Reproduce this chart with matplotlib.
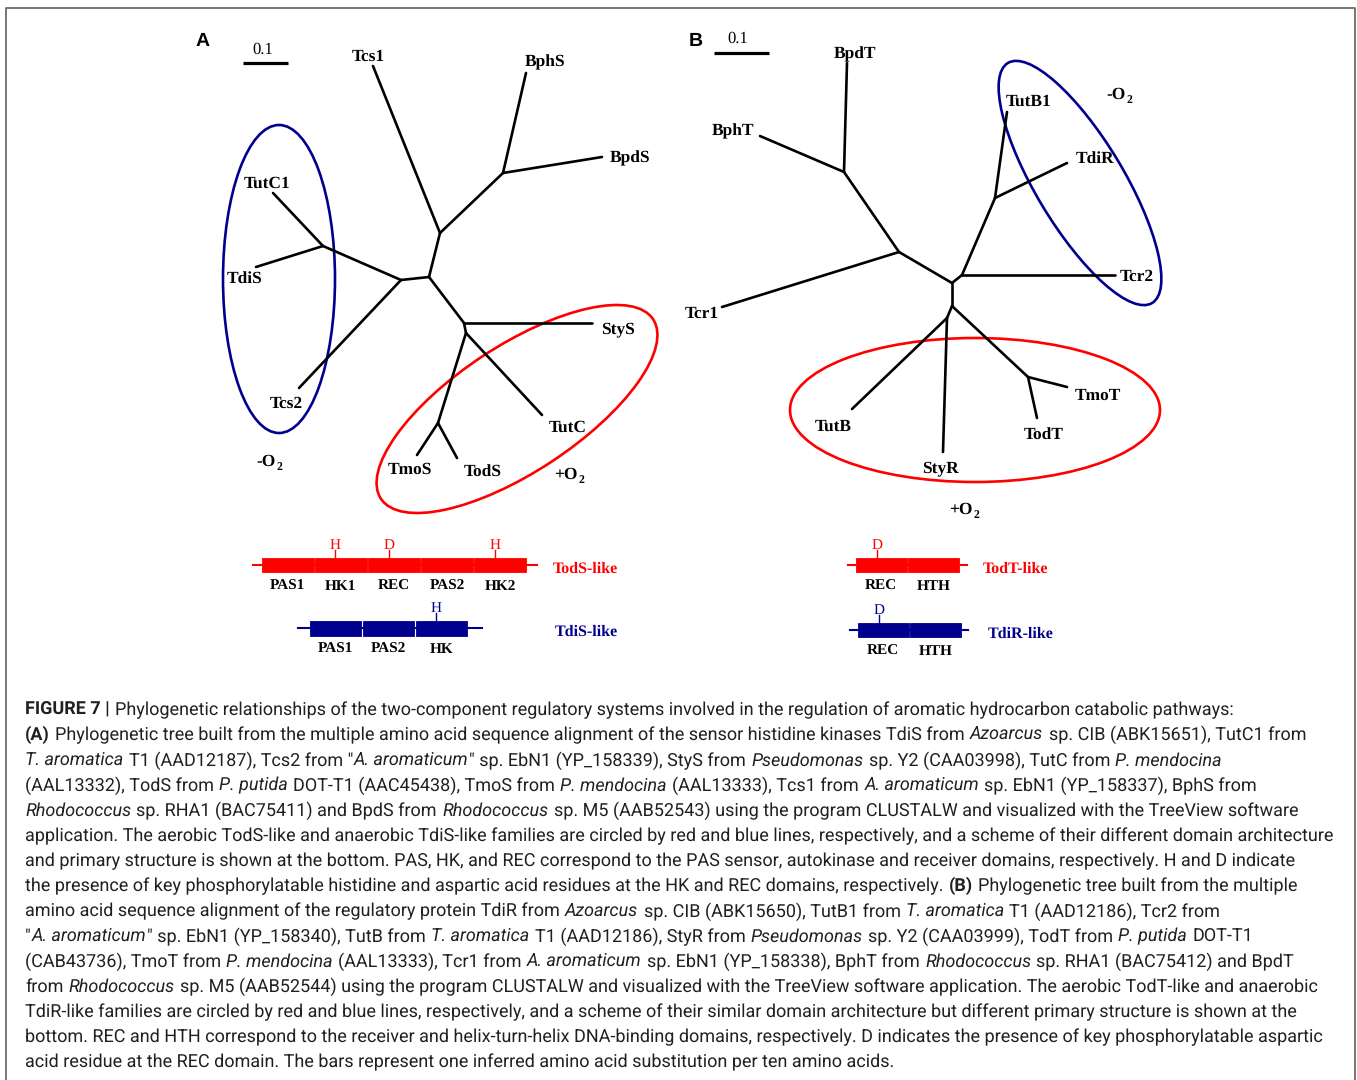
import re
import matplotlib
matplotlib.use("Agg")
import matplotlib.pyplot as plt
from matplotlib.patches import Ellipse, Rectangle

plt.rcParams["text.hinting"] = "no_hinting"

# ---------------- Panel A: sensor histidine kinase tree ----------------
a_tip_names = ["Tcs1", "BphS", "BpdS", "TutC1", "TdiS", "Tcs2", "StyS", "TutC", "TmoS", "TodS"]
a_tip_x = [373, 526, 602, 273, 256, 299, 592, 542, 417, 457]
a_tip_y = [66, 73, 157, 193, 267, 388, 323, 415, 455, 458]
a_node_names = ["a1", "a2", "a3", "a4", "a5", "a6", "a7", "a8"]
a_node_x = [503, 440, 429, 401, 323, 464, 466, 438]
a_node_y = [173, 233, 277, 280, 246, 323, 333, 423]
a_edges = [("a1", "BphS"), ("a1", "BpdS"), ("a2", "a1"), ("a2", "Tcs1"),
           ("a3", "a2"), ("a3", "a4"), ("a4", "a5"), ("a5", "TutC1"),
           ("a5", "TdiS"), ("a4", "Tcs2"), ("a3", "a6"), ("a6", "StyS"),
           ("a6", "a7"), ("a7", "TutC"), ("a7", "a8"), ("a8", "TmoS"),
           ("a8", "TodS")]

# ---------------- Panel B: response regulator tree ----------------
b_tip_names = ["BpdT", "BphT", "Tcr1", "TutB1", "TdiR", "Tcr2", "TutB", "StyR", "TodT", "TmoT"]
b_tip_x = [847, 760, 722, 1007, 1067, 1115, 852, 943, 1037, 1067]
b_tip_y = [63, 136, 307, 112, 163, 275, 409, 452, 418, 387]
b_node_names = ["b1", "b2", "b3", "b4", "b5", "b6", "b7", "b8"]
b_node_x = [844, 899, 952, 962, 995, 952, 947, 1028]
b_node_y = [172, 252, 283, 275, 198, 306, 318, 377]
b_edges = [("b1", "BpdT"), ("b1", "BphT"), ("b2", "b1"), ("b2", "Tcr1"),
           ("b2", "b3"), ("b3", "b4"), ("b4", "Tcr2"), ("b4", "b5"),
           ("b5", "TutB1"), ("b5", "TdiR"), ("b3", "b6"), ("b6", "b7"),
           ("b7", "TutB"), ("b7", "StyR"), ("b6", "b8"), ("b8", "TodT"),
           ("b8", "TmoT")]

# ---------------- Domain architectures ----------------
tods_domains = ["PAS1", "HK1", "REC", "PAS2", "HK2"]
tods_sites = ["", "H", "D", "", "H"]
tdis_domains = ["PAS1", "PAS2", "HK"]
tdis_sites = ["", "", "H"]
todt_domains = ["REC", "HTH"]
todt_sites = ["D", ""]
tdir_domains = ["REC", "HTH"]
tdir_sites = ["D", ""]

caption_lines = [
    "**FIGURE 7 |** Phylogenetic relationships of the two-component regulatory systems involved in the regulation of aromatic hydrocarbon catabolic pathways:",
    "**(A)** Phylogenetic tree built from the multiple amino acid sequence alignment of the sensor histidine kinases TdiS from *Azoarcus* sp. CIB (ABK15651), TutC1 from",
    "*T. aromatica* T1 (AAD12187), Tcs2 from \"*A. aromaticum*\" sp. EbN1 (YP_158339), StyS from *Pseudomonas* sp. Y2 (CAA03998), TutC from *P. mendocina*",
    "(AAL13332), TodS from *P. putida* DOT-T1 (AAC45438), TmoS from *P. mendocina* (AAL13333), Tcs1 from *A. aromaticum* sp. EbN1 (YP_158337), BphS from",
    "*Rhodococcus* sp. RHA1 (BAC75411) and BpdS from *Rhodococcus* sp. M5 (AAB52543) using the program CLUSTALW and visualized with the TreeView software",
    "application. The aerobic TodS-like and anaerobic TdiS-like families are circled by red and blue lines, respectively, and a scheme of their different domain architecture",
    "and primary structure is shown at the bottom. PAS, HK, and REC correspond to the PAS sensor, autokinase and receiver domains, respectively. H and D indicate",
    "the presence of key phosphorylatable histidine and aspartic acid residues at the HK and REC domains, respectively. **(B)** Phylogenetic tree built from the multiple",
    "amino acid sequence alignment of the regulatory protein TdiR from *Azoarcus* sp. CIB (ABK15650), TutB1 from *T. aromatica* T1 (AAD12186), Tcr2 from",
    "\"*A. aromaticum*\" sp. EbN1 (YP_158340), TutB from *T. aromatica* T1 (AAD12186), StyR from *Pseudomonas* sp. Y2 (CAA03999), TodT from *P. putida* DOT-T1",
    "(CAB43736), TmoT from *P. mendocina* (AAL13333), Tcr1 from *A. aromaticum* sp. EbN1 (YP_158338), BphT from *Rhodococcus* sp. RHA1 (BAC75412) and BpdT",
    "from *Rhodococcus* sp. M5 (AAB52544) using the program CLUSTALW and visualized with the TreeView software application. The aerobic TodT-like and anaerobic",
    "TdiR-like families are circled by red and blue lines, respectively, and a scheme of their similar domain architecture but different primary structure is shown at the",
    "bottom. REC and HTH correspond to the receiver and helix-turn-helix DNA-binding domains, respectively. D indicates the presence of key phosphorylatable aspartic",
    "acid residue at the REC domain. The bars represent one inferred amino acid substitution per ten amino acids.",
]

RED = "#ff0000"
NAVY = "#00008f"
INK = "#231f20"
SERIF = "Liberation Serif"
SANS = "Roboto"

W, H = 1357, 1080
fig = plt.figure(figsize=(W / 100, H / 100), dpi=100)
ax = fig.add_axes([0, 0, 1, 1])
ax.set_xlim(0, W)
ax.set_ylim(H, 0)
ax.axis("off")
renderer = fig.canvas.get_renderer()

# outer frame
ax.plot([6, 6, 1355, 1355], [H, 8, 8, H], color="#6b6b6b", lw=1.3)


def draw_tree(tips, tx, ty, nodes, nx, ny, edges):
    pos = dict(zip(tips + nodes, zip(tx + nx, ty + ny)))
    for u, v in edges:
        ax.plot([pos[u][0], pos[v][0]], [pos[u][1], pos[v][1]],
                color="black", lw=1.9, solid_capstyle="round")


def tree_label(x, y, s):
    ax.text(x, y + 6, s, family=SERIF, weight="bold", size=12.5,
            ha="center", va="baseline", color="black")


def oxygen_label(x, y, sign):
    t = ax.text(x - 4, y + 6, sign + "O", family=SERIF, weight="bold",
                size=12.5, ha="center", va="baseline", color="black")
    bb = t.get_window_extent(renderer)
    ax.text(bb.x1 + 0.5, y + 10, "2", family=SERIF, weight="bold", size=8.5,
            ha="left", va="baseline", color="black")


draw_tree(a_tip_names, a_tip_x, a_tip_y, a_node_names, a_node_x, a_node_y, a_edges)
draw_tree(b_tip_names, b_tip_x, b_tip_y, b_node_names, b_node_x, b_node_y, b_edges)

a_label_x = [368, 545, 630, 267, 245, 286, 618, 568, 410, 483]
a_label_y = [55, 60, 156, 182, 277, 402, 327, 426, 468, 470]
for s, x, y in zip(a_tip_names, a_label_x, a_label_y):
    tree_label(x, y, s)
b_label_x = [855, 733, 702, 1029, 1095, 1137, 833, 940, 1044, 1098]
b_label_y = [52, 129, 312, 100, 157, 275, 425, 466, 433, 394]
for s, x, y in zip(b_tip_names, b_label_x, b_label_y):
    tree_label(x, y, s)

oxygen_label(270, 460, "-")
oxygen_label(570, 473, "+")
oxygen_label(1120, 93, "-")
oxygen_label(965, 508, "+")

# family circles
ax.add_patch(Ellipse((279, 279), 112, 308, fill=False, ec=NAVY, lw=1.9))
ax.add_patch(Ellipse((517, 409), 326, 126, angle=-33.4, fill=False, ec=RED, lw=1.9))
ax.add_patch(Ellipse((1080, 183), 280, 88, angle=59, fill=False, ec=NAVY, lw=1.9))
ax.add_patch(Ellipse((975, 410), 370, 144, fill=False, ec=RED, lw=1.9))

# panel letters and scale bars
ax.text(203, 46, "A", family="Liberation Sans", weight="bold", size=14,
        ha="center", va="baseline")
ax.text(696, 46, "B", family="Liberation Sans", weight="bold", size=14,
        ha="center", va="baseline")
ax.plot([243, 288], [63, 63], color="black", lw=2.3, solid_capstyle="butt")
ax.text(263, 54, "0.1", family=SERIF, size=12, ha="center", va="baseline")
ax.plot([714, 769], [53, 53], color="black", lw=2.3, solid_capstyle="butt")
ax.text(738, 43, "0.1", family=SERIF, size=12, ha="center", va="baseline")


def draw_domains(x0, ymid, bw, bh, names, sites, site_frac, color,
                 tail_l, tail_r, fam, fam_x):
    x_end = x0 + bw * len(names)
    ax.plot([x0 - tail_l, x_end + tail_r], [ymid, ymid], color=color, lw=1.5)
    for i, (nm, site) in enumerate(zip(names, sites)):
        bx = x0 + i * bw
        ax.add_patch(Rectangle((bx + 0.6, ymid - bh / 2), bw - 1.2, bh,
                               fc=color, ec=color, lw=0.6))
        ax.text(bx + bw / 2, ymid + 25, nm, family=SERIF, weight="bold",
                size=11, ha="center", va="baseline", color="black")
        if site:
            sx = bx + bw * site_frac
            top = ymid - bh / 2
            ax.plot([sx, sx], [top, top - 8], color=color, lw=1.0)
            ax.text(sx, top - 9, site, family=SERIF, size=11,
                    ha="center", va="baseline", color=color)
    ax.text(fam_x, ymid + 8, fam, family=SERIF, weight="bold", size=11.5,
            ha="left", va="baseline", color=color)


draw_domains(261, 565, 53.2, 14, tods_domains, tods_sites, 0.4, RED, 8, 10, "TodS-like", 553)
draw_domains(309, 628, 53.0, 15, tdis_domains, tdis_sites, 0.4, NAVY, 11, 14, "TdiS-like", 555)
draw_domains(855, 565, 52.5, 14, todt_domains, todt_sites, 0.42, RED, 7, 7, "TodT-like", 983)
draw_domains(857, 630, 52.5, 14, tdir_domains, tdir_sites, 0.42, NAVY, 7, 6, "TdiR-like", 988)

# ---------------- caption ----------------
def font_kw(style, size):
    kw = dict(family=SANS, size=size, color=INK, va="baseline", ha="left")
    kw["weight"] = "bold" if style == "b" else "normal"
    if style == "i":
        kw["style"] = "italic"
    return kw


def text_width(s, style, size):
    t = ax.text(100, 500, s, **font_kw(style, size))
    w = t.get_window_extent(renderer).width
    t.remove()
    return w


def segments(line):
    out = []
    for part in re.split(r"(\*\*.+?\*\*|\*.+?\*)", line):
        if not part:
            continue
        if part.startswith("**"):
            out.append((part[2:-2], "b"))
        elif part.startswith("*"):
            out.append((part[1:-1], "i"))
        else:
            out.append((part, "r"))
    return out


# size the caption so its widest line spans the text block
plain6 = caption_lines[5].replace("*", "")
cap_size = 12.0
for _ in range(4):
    cap_size *= 1306.0 / text_width(plain6, "r", cap_size)
space_w = text_width("n n", "r", cap_size) - text_width("nn", "r", cap_size)

y0 = 715.0
for k, line in enumerate(caption_lines):
    x = 25.0
    y = y0 + 25.2 * k
    for txt, style in segments(line):
        lead = len(txt) - len(txt.lstrip(" "))
        trail = len(txt) - len(txt.rstrip(" "))
        core = txt.strip(" ")
        x += lead * space_w
        if core:
            t = ax.text(x, y, core, **font_kw(style, cap_size))
            x += t.get_window_extent(renderer).width + 0.8
        x += trail * space_w

fig.savefig("out.png", dpi=100, facecolor="white")
